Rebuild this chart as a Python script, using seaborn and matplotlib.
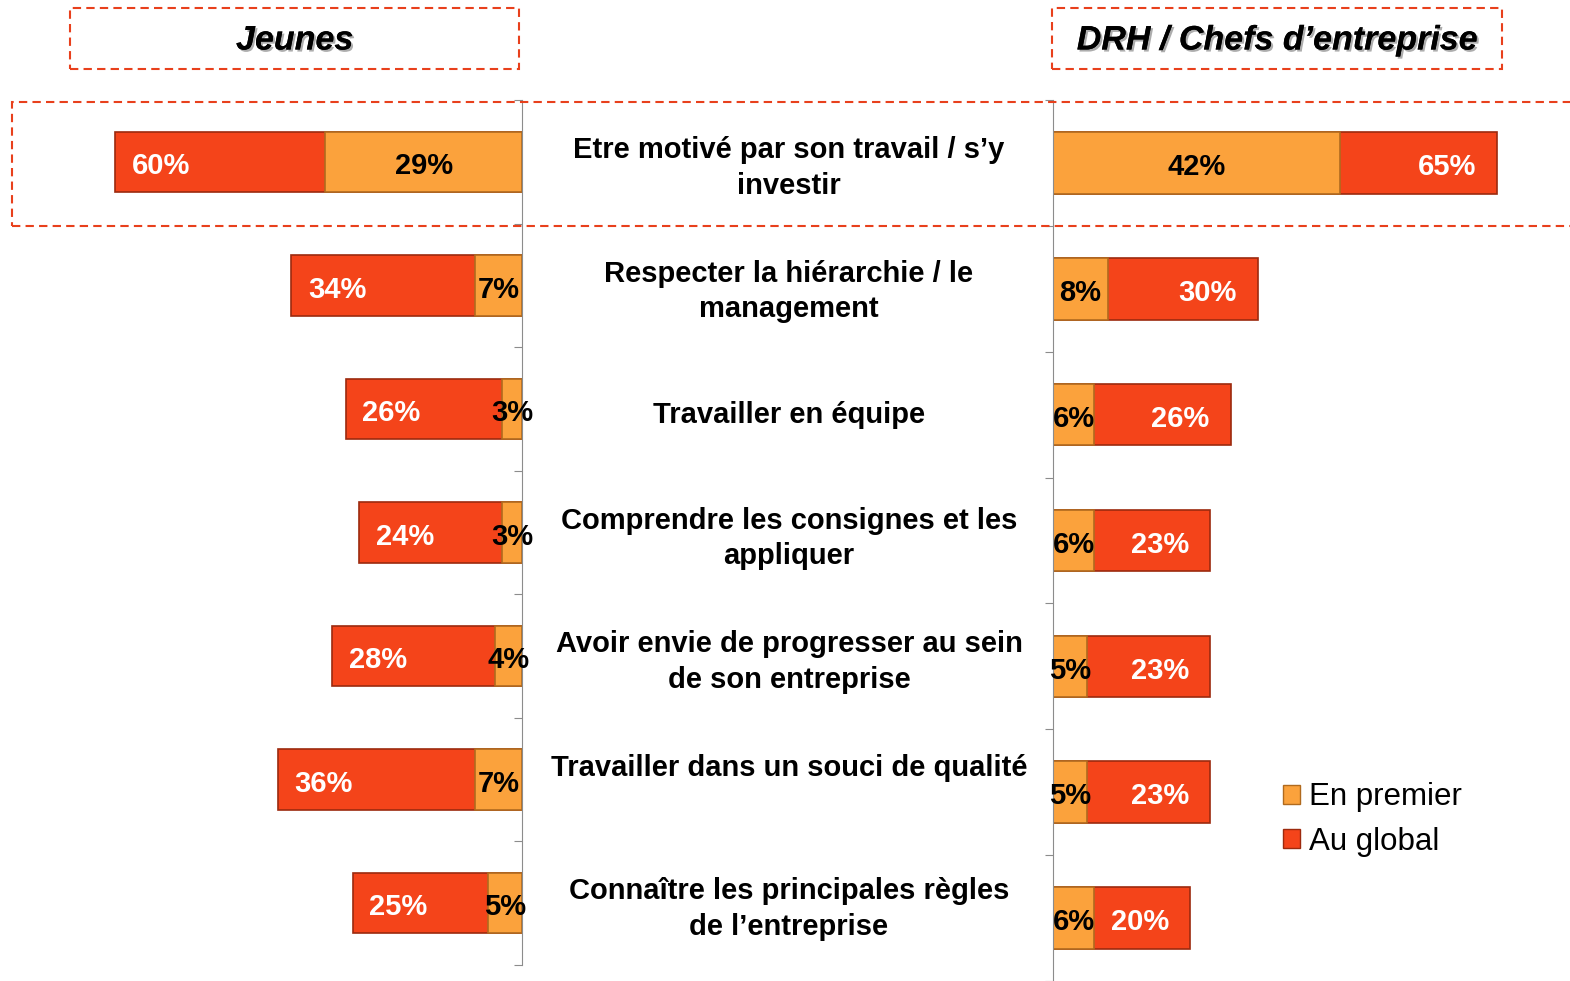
import numpy as np
import pandas as pd
import matplotlib
matplotlib.use("Agg")
import matplotlib.pyplot as plt
import matplotlib.patheffects as pe
import matplotlib.transforms as mtransforms
from matplotlib.patches import Rectangle, Patch
import seaborn as sns

# data
categories = ["Etre motivé par son travail / s’y\ninvestir",
              "Respecter la hiérarchie / le\nmanagement",
              "Travailler en équipe",
              "Comprendre les consignes et les\nappliquer",
              "Avoir envie de progresser au sein\nde son entreprise",
              "Travailler dans un souci de qualité\n",
              "Connaître les principales règles\nde l’entreprise"]
jeunes_premier = [29, 7, 3, 3, 4, 7, 5]
jeunes_global = [60, 34, 26, 24, 28, 36, 25]
drh_premier = [42, 8, 6, 6, 5, 5, 6]
drh_global = [65, 30, 26, 23, 23, 23, 20]

RED = "#F4441A"
ORANGE = "#FBA23C"
RED_EDGE = "#9C2A0E"
ORANGE_EDGE = "#B06A1E"
DASH = "#E8401C"

sns.set_style("white")
plt.rcParams['font.family'] = ['Liberation Sans', 'DejaVu Sans']
plt.rcParams['text.color'] = 'black'

W, H = 1570, 981
fig = plt.figure(figsize=(15.7, 9.81), dpi=100)

def fx(px):
    return px / W

def fy(px):
    return 1 - px / H

xmax = 70
# left panel: bars grow to the left from x=522
lw_px = 6.78 * xmax
ax_l = fig.add_axes([fx(522 - lw_px), fy(965), fx(lw_px), (965 - 100) / H])
rw_px = 6.83 * xmax
ax_r = fig.add_axes([fx(1053), fy(981), fx(rw_px), (981 - 100) / H])

df_j = pd.DataFrame({"cat": categories, "premier": jeunes_premier, "global": jeunes_global})
df_d = pd.DataFrame({"cat": categories, "premier": drh_premier, "global": drh_global})

for ax, df in [(ax_l, df_j), (ax_r, df_d)]:
    sns.barplot(data=df, x="global", y="cat", orient="h", color=RED, width=0.49,
                edgecolor=RED_EDGE, linewidth=1.2, saturation=1, ax=ax)
    sns.barplot(data=df, x="premier", y="cat", orient="h", color=ORANGE, width=0.49,
                edgecolor=ORANGE_EDGE, linewidth=1.2, saturation=1, ax=ax)
    ax.set_ylim(6.5, -0.5)
    ax.set_xlim(0, xmax)
    ax.set_xlabel("")
    ax.set_ylabel("")
    ax.set_xticks([])
    ax.set_yticks(np.arange(-0.5, 7, 1))
    ax.set_yticklabels([])
    ax.patch.set_alpha(0)
    for s in ax.spines.values():
        s.set_visible(False)

ax_l.invert_xaxis()
ax_l.yaxis.tick_right()
ax_l.spines["right"].set_visible(True)
ax_l.spines["right"].set_color("#8c8c8c")
ax_l.tick_params(axis="y", direction="in", length=6, color="#8c8c8c", right=True, left=False)
ax_r.spines["left"].set_visible(True)
ax_r.spines["left"].set_color("#8c8c8c")
ax_r.tick_params(axis="y", direction="out", length=6, color="#8c8c8c", left=True)

# labels
lab_fs = 21
for i in range(len(categories)):
    ax_l.annotate(f"{jeunes_global[i]}%", (jeunes_global[i], i), xytext=(12, -3),
                  textcoords="offset points", ha="left", va="center",
                  color="white", fontsize=lab_fs, fontweight="bold")
    ax_l.annotate(f"{jeunes_premier[i]}%", (jeunes_premier[i] / 2, i), xytext=(0, -3),
                  textcoords="offset points", ha="center", va="center",
                  color="black", fontsize=lab_fs, fontweight="bold")
    ax_r.annotate(f"{drh_global[i]}%", (drh_global[i], i), xytext=(-15, -3),
                  textcoords="offset points", ha="right", va="center",
                  color="white", fontsize=lab_fs, fontweight="bold")
    ax_r.annotate(f"{drh_premier[i]}%", (drh_premier[i] / 2, i), xytext=(0, -3),
                  textcoords="offset points", ha="center", va="center",
                  color="black", fontsize=lab_fs, fontweight="bold")

# middle category text, following the left panel rows
trans = mtransforms.blended_transform_factory(fig.transFigure, ax_l.transData)
trans = trans + mtransforms.ScaledTranslation(0, -6 / 100, fig.dpi_scale_trans)
for i, c in enumerate(categories):
    fig.text(fx(789), i, c, transform=trans, ha="center", va="center",
             fontsize=21, fontweight="bold", linespacing=1.35)

# headers in dashed boxes
shadow = [pe.withSimplePatchShadow(offset=(1.5, -1.5), shadow_rgbFace="#999999", alpha=0.8), pe.Normal()]
for (x0, x1, txt) in [(70, 519, "Jeunes"), (1052, 1502, "DRH / Chefs d’entreprise")]:
    fig.patches.append(Rectangle((fx(x0), fy(69)), fx(x1 - x0), (69 - 8) / H,
                                 transform=fig.transFigure, fill=False,
                                 edgecolor=DASH, linestyle=(0, (4, 2.5)), linewidth=1.5))
    fig.text(fx((x0 + x1) / 2), fy(41), txt, ha="center", va="center", fontsize=24.5,
             fontweight="bold", fontstyle="italic", path_effects=shadow)

# highlight box around first row
fig.patches.append(Rectangle((fx(12), fy(226)), fx(1600 - 12), (226 - 102) / H,
                             transform=fig.transFigure, fill=False, clip_on=False,
                             edgecolor=DASH, linestyle=(0, (4, 2.5)), linewidth=1.5))

handles = [Patch(facecolor=ORANGE, edgecolor=ORANGE_EDGE, label="En premier"),
           Patch(facecolor=RED, edgecolor=RED_EDGE, label="Au global")]
fig.legend(handles=handles, loc="upper left", bbox_to_anchor=(fx(1270), fy(770)),
           frameon=False, fontsize=22.5, handlelength=0.55, handleheight=0.55,
           handletextpad=0.3, labelspacing=0.45, borderaxespad=0)

fig.savefig("out.png", dpi=100)
